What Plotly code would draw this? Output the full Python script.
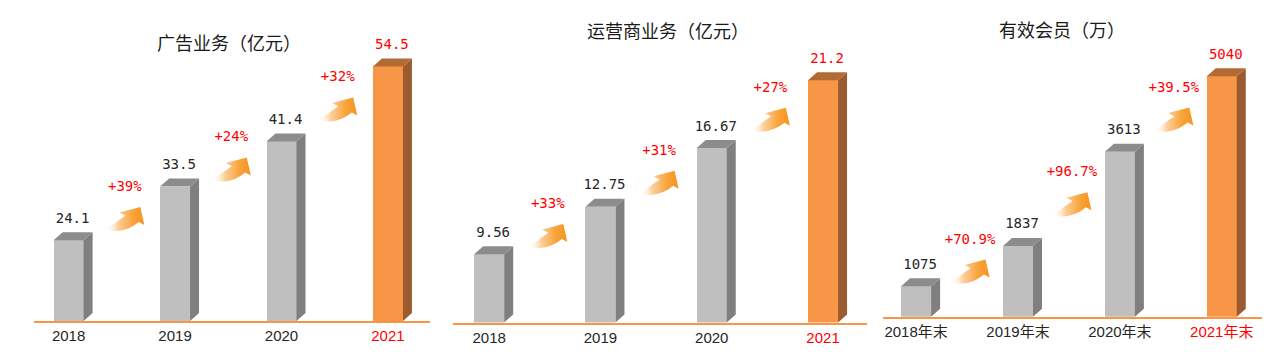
import plotly.graph_objects as go

# page body adds an 8px margin; the figure is sized to fit the remaining window
OFF = 8
W, H = 1282 - OFF, 362 - OFF

# ---------------- data ----------------
titles = ["广告业务（亿元）", "运营商业务（亿元）", "有效会员（万）"]

ad_categories = ["2018", "2019", "2020", "2021"]
ad_values = [24.1, 33.5, 41.4, 54.5]
ad_labels = ["24.1", "33.5", "41.4", "54.5"]
ad_growth = ["+39%", "+24%", "+32%"]

op_categories = ["2018", "2019", "2020", "2021"]
op_values = [9.56, 12.75, 16.67, 21.2]
op_labels = ["9.56", "12.75", "16.67", "21.2"]
op_growth = ["+33%", "+31%", "+27%"]

mem_categories = ["2018年末", "2019年末", "2020年末", "2021年末"]
mem_values = [1075, 1837, 3613, 5040]
mem_labels = ["1075", "1837", "3613", "5040"]
mem_growth = ["+70.9%", "+96.7%", "+39.5%"]

# ---------------- style / layout ----------------
GRAY_FRONT, GRAY_SIDE, GRAY_TOP = "#BFBFBF", "#7F7F7F", "#8C8C8C"
OR_FRONT, OR_SIDE, OR_TOP = "#F79646", "#9C5B2E", "#B36B36"
RED = "#FF0000"
TXT = "#262626"
XR = (-0.325, 3.395)
BAR_PX, DX_PX, DY_PX = 30, 9, 8

# pixel positions below are window coordinates of the reference
panels = [
    dict(title=titles[0], cats=ad_categories, vals=ad_values, labels=ad_labels, growth=ad_growth,
         x0=34, x1=430, base=321, ymin=10, scale=5.72, tpos=(229, 42)),
    dict(title=titles[1], cats=op_categories, vals=op_values, labels=op_labels, growth=op_growth,
         x0=453, x1=867, base=322.5, ymin=5, scale=14.95, tpos=(668, 30)),
    dict(title=titles[2], cats=mem_categories, vals=mem_values, labels=mem_labels, growth=mem_growth,
         x0=883, x1=1262, base=316.7, ymin=500, scale=0.05296, tpos=(1062, 29)),
]

# arrow outline in local pixel coordinates (y up), tail at origin
ARROW = [(0, 0), (6, -1.3), (12, -1.6), (18, -0.7), (24, 1.3), (29.5, 4.2), (34, 7.5),
         (39.5, 4.5), (35.5, 22.5), (14.5, 17), (20.5, 13.8), (16.5, 10.8), (11.5, 7.2),
         (6, 3.6), (1, 0.9), (0, 0)]
AXC, AYC = 20, 11

fig = go.Figure()
layout = {}
annotations = []

for k, p in enumerate(panels):
    sfx = "" if k == 0 else str(k + 1)
    xa, ya = "x" + sfx, "y" + sfx
    x0, x1, base = p["x0"] - OFF, p["x1"] - OFF, p["base"] - OFF
    unit = (x1 - x0) / (XR[1] - XR[0])
    sc = p["scale"]
    ymax = p["ymin"] + base / sc
    w = BAR_PX / unit
    dx = DX_PX / unit
    dy = DY_PX / sc
    n = len(p["vals"])
    xs = list(range(n))
    last = n - 1

    fronts = [OR_FRONT if i == last else GRAY_FRONT for i in xs]
    fig.add_trace(go.Bar(x=xs, y=p["vals"], width=w, marker=dict(color=fronts, line=dict(width=0)),
                         xaxis=xa, yaxis=ya, hoverinfo="skip", showlegend=False))

    for i, v in enumerate(p["vals"]):
        side_c = OR_SIDE if i == last else GRAY_SIDE
        top_c = OR_TOP if i == last else GRAY_TOP
        xr = i + w / 2
        xl = i - w / 2
        yb = p["ymin"]
        fig.add_trace(go.Scatter(x=[xr, xr + dx, xr + dx, xr, xr], y=[yb, yb + dy, v + dy, v, yb],
                                 fill="toself", fillcolor=side_c, mode="lines",
                                 line=dict(width=0, color=side_c), xaxis=xa, yaxis=ya,
                                 hoverinfo="skip", showlegend=False))
        fig.add_trace(go.Scatter(x=[xl, xr, xr + dx, xl + dx, xl], y=[v, v, v + dy, v + dy, v],
                                 fill="toself", fillcolor=top_c, mode="lines",
                                 line=dict(width=0, color=top_c), xaxis=xa, yaxis=ya,
                                 hoverinfo="skip", showlegend=False))

    # value labels
    fig.add_trace(go.Scatter(x=[i + 4 / unit for i in xs], y=[v + 21 / sc for v in p["vals"]],
                             mode="text", text=p["labels"], textposition="middle center",
                             textfont=dict(family="DejaVu Sans Mono", size=14,
                                           color=[RED if i == last else TXT for i in xs]),
                             xaxis=xa, yaxis=ya, hoverinfo="skip", showlegend=False, cliponaxis=False))

    # growth arrows + labels
    gx, gy = [], []
    for i in range(n - 1):
        cx = i + 0.5 + 3 / unit
        cy = (p["vals"][i] + p["vals"][i + 1]) / 2 - 5 / sc
        ax = [cx + (X - AXC) / unit for X, Y in ARROW]
        ay = [cy + (Y - AYC) / sc for X, Y in ARROW]
        fig.add_trace(go.Scatter(x=ax, y=ay, fill="toself", mode="lines",
                                 line=dict(width=0, color="rgba(0,0,0,0)"),
                                 fillgradient=dict(type="horizontal",
                                                   colorscale=[[0, "rgba(255,255,255,0)"],
                                                               [0.35, "rgba(251,196,130,0.85)"],
                                                               [0.7, "#F9A43C"],
                                                               [1, "#F7931E"]]),
                                 xaxis=xa, yaxis=ya, hoverinfo="skip", showlegend=False))
        gx.append(cx)
        gy.append(cy + 31 / sc)
    fig.add_trace(go.Scatter(x=gx, y=gy, mode="text", text=p["growth"], textposition="middle center",
                             textfont=dict(family="DejaVu Sans Mono", size=14, color=RED),
                             xaxis=xa, yaxis=ya, hoverinfo="skip", showlegend=False, cliponaxis=False))

    ticktext = [f'<span style="color:{RED}">{c}</span>' if i == last else c
                for i, c in enumerate(p["cats"])]
    layout["xaxis" + sfx] = dict(domain=[x0 / W, x1 / W], range=list(XR), anchor=ya,
                                 showline=True, linecolor=OR_FRONT, linewidth=2, showgrid=False,
                                 zeroline=False, tickvals=xs, ticktext=ticktext, ticks="",
                                 tickfont=dict(family="Liberation Sans, Noto Sans CJK SC", size=15, color=TXT),
                                 fixedrange=True)
    layout["yaxis" + sfx] = dict(domain=[1 - base / H, 1], range=[p["ymin"], ymax], anchor=xa,
                                 visible=False, showgrid=False, zeroline=False, fixedrange=True)
    annotations.append(dict(text=p["title"], x=(p["tpos"][0] - OFF) / W, y=1 - (p["tpos"][1] - OFF) / H,
                            xref="paper", yref="paper", xanchor="center", yanchor="middle",
                            showarrow=False,
                            font=dict(family="Noto Sans CJK SC", size=18, color="#1A1A1A")))

fig.update_layout(width=W, height=H, margin=dict(l=0, r=0, t=0, b=0),
                  paper_bgcolor="white", plot_bgcolor="white", bargap=0,
                  annotations=annotations, **layout)

fig.write_html("out.html")
